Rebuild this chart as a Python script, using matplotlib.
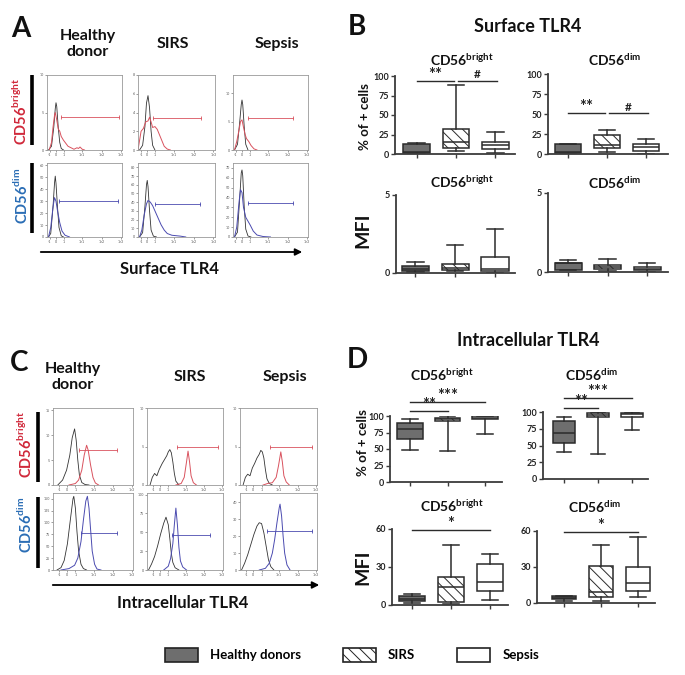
import matplotlib
matplotlib.use("Agg")
import matplotlib.pyplot as plt
from matplotlib.patches import Patch

plt.rcParams['font.family'] = ['Lato', 'DejaVu Sans']
plt.rcParams['mathtext.fontset'] = 'custom'
plt.rcParams['mathtext.rm'] = 'Lato'
plt.rcParams['mathtext.bf'] = 'Lato:bold'
plt.rcParams['hatch.linewidth'] = 0.7

# ---------------- data ----------------
GROUPS = ['Healthy donors', 'SIRS', 'Sepsis']
HIST_XTICKLABELS = ['-1', '0', '1', '1e1', '1e2', '1e3']

# Panel A (surface TLR4) histogram traces: (channel, count); isotype = black, stain = coloured
A_HD_BRIGHT_ISO = [(0.02,0),(0.06,0.5),(0.09,3),(0.11,5.5),(0.12,6.3),(0.13,5.8),(0.15,3),(0.17,1),(0.19,0.2),(0.22,0)]
A_HD_BRIGHT_TLR4 = [(0.03,0),(0.06,1),(0.08,3),(0.10,4.6),(0.11,5),(0.13,4),(0.15,2.8),(0.17,2.5),(0.19,1.8),(0.22,1.3),(0.25,0.9),(0.28,0.5),(0.32,0.3),(0.36,0.1),(0.40,0.3),(0.42,0.2),(0.44,0.4),(0.47,0.1),(0.50,0)]
A_SIRS_BRIGHT_ISO = [(0.02,0),(0.06,0.5),(0.09,2.5),(0.11,5),(0.13,5.8),(0.15,4.5),(0.17,2),(0.19,0.5),(0.22,0)]
A_SIRS_BRIGHT_TLR4 = [(0.0,0),(0.02,1),(0.04,2),(0.07,2.3),(0.10,3),(0.13,3.1),(0.15,3.5),(0.17,3),(0.19,2.4),(0.22,2.5),(0.25,2.2),(0.28,1.6),(0.31,1),(0.34,0.4),(0.38,0.1),(0.42,0)]
A_SEP_BRIGHT_ISO = [(0.02,0),(0.06,1),(0.09,5),(0.11,8),(0.12,8.8),(0.13,8),(0.15,4),(0.17,1),(0.20,0)]
A_SEP_BRIGHT_TLR4 = [(0.02,0),(0.05,1.5),(0.08,3.5),(0.10,5),(0.12,5.3),(0.14,4),(0.16,2.8),(0.18,2),(0.21,1.5),(0.24,0.8),(0.28,0.2),(0.32,0)]
A_HD_DIM_ISO = [(0.02,0),(0.05,3),(0.08,25),(0.10,45),(0.11,51),(0.12,45),(0.14,25),(0.16,8),(0.19,1),(0.22,0)]
A_HD_DIM_TLR4 = [(0.02,0),(0.05,8),(0.08,25),(0.10,33),(0.12,30),(0.14,22),(0.17,12),(0.20,5),(0.24,1.5),(0.30,0)]
A_SIRS_DIM_ISO = [(0.02,0),(0.06,5),(0.09,35),(0.11,60),(0.12,65),(0.13,58),(0.15,30),(0.17,8),(0.20,1),(0.24,0)]
A_SIRS_DIM_TLR4 = [(0.02,0),(0.05,8),(0.08,25),(0.11,38),(0.13,42),(0.16,40),(0.19,36),(0.22,30),(0.26,22),(0.30,14),(0.34,8),(0.38,4),(0.44,2),(0.55,1),(0.62,0)]
A_SEP_DIM_ISO = [(0.02,0),(0.06,5),(0.09,40),(0.11,65),(0.12,68),(0.13,62),(0.15,30),(0.17,8),(0.20,1),(0.24,0)]
A_SEP_DIM_TLR4 = [(0.02,0),(0.05,10),(0.08,35),(0.10,48),(0.12,45),(0.14,30),(0.17,20),(0.20,16),(0.23,12),(0.27,6),(0.32,2),(0.40,0.5),(0.50,0)]
# gates: (start, end, level)
A_GATES = [(0.18,0.96,4.4),(0.20,0.82,3.4),(0.20,0.80,5.6),(0.16,0.95,30),(0.22,0.80,38),(0.20,0.80,34)]
A_YMAX = [10, 8, 13.2, 62, 85, 75]
A_YTICKS = [[0,5,10],[0,2,4,6,8],[0,5,10],[0,10,20,30,40,50,60],[0,10,20,30,40,50,60,70,80],[0,10,20,30,40,50,60,70]]

# Panel C (intracellular TLR4)
C_HD_BRIGHT_ISO = [(0.06,0),(0.12,1),(0.17,3),(0.21,6),(0.24,9.5),(0.27,11.3),(0.29,9),(0.31,5),(0.33,2),(0.36,0.5),(0.40,0.1),(0.45,0)]
C_HD_BRIGHT_TLR4 = [(0.20,0),(0.28,0.3),(0.32,1),(0.36,3),(0.39,6),(0.42,8),(0.44,7),(0.47,4),(0.50,1.5),(0.53,0.4),(0.57,0)]
C_SIRS_BRIGHT_ISO = [(0.04,0),(0.07,1),(0.10,1.5),(0.13,1.2),(0.16,2),(0.20,2.8),(0.23,3.3),(0.26,3.8),(0.28,4.3),(0.30,4.6),(0.32,4.2),(0.34,3),(0.36,1.5),(0.38,0.5),(0.42,0)]
C_SIRS_BRIGHT_TLR4 = [(0.38,0),(0.45,0.2),(0.49,1),(0.52,3),(0.54,4.4),(0.56,3),(0.58,1.2),(0.61,0.3),(0.65,0)]
C_SEP_BRIGHT_ISO = [(0.04,0),(0.07,1),(0.10,1.4),(0.13,1.2),(0.16,2.2),(0.19,2.8),(0.22,3.5),(0.25,4),(0.27,4.5),(0.29,4.3),(0.31,3.5),(0.33,2),(0.35,0.8),(0.38,0.2),(0.42,0)]
C_SEP_BRIGHT_TLR4 = [(0.30,0),(0.36,0.2),(0.42,0.3),(0.47,1),(0.50,2.5),(0.53,4.3),(0.55,3),(0.57,1.2),(0.60,0.4),(0.64,0)]
C_HD_DIM_ISO = [(0.05,0),(0.10,5),(0.14,20),(0.18,55),(0.22,110),(0.25,150),(0.26,155),(0.28,130),(0.30,80),(0.32,40),(0.35,12),(0.38,3),(0.42,0)]
C_HD_DIM_TLR4 = [(0.10,0),(0.20,3),(0.27,10),(0.31,25),(0.35,60),(0.38,105),(0.41,145),(0.43,155),(0.45,130),(0.47,85),(0.49,40),(0.52,12),(0.55,2),(0.60,0)]
C_SIRS_DIM_ISO = [(0.02,0),(0.06,8),(0.10,18),(0.14,32),(0.18,48),(0.22,62),(0.25,70),(0.28,60),(0.30,42),(0.32,22),(0.34,10),(0.37,3),(0.42,0)]
C_SIRS_DIM_TLR4 = [(0.22,0),(0.28,5),(0.31,15),(0.34,35),(0.36,60),(0.38,82),(0.40,60),(0.42,30),(0.44,12),(0.47,4),(0.52,0)]
C_SEP_DIM_ISO = [(0.02,0),(0.06,4),(0.10,9),(0.14,15),(0.18,21),(0.22,26),(0.25,28),(0.28,27.5),(0.31,22),(0.34,14),(0.37,6),(0.40,2),(0.44,0)]
C_SEP_DIM_TLR4 = [(0.25,0),(0.33,1),(0.38,4),(0.42,10),(0.45,18),(0.48,28),(0.51,37),(0.52,39),(0.54,32),(0.56,20),(0.58,10),(0.61,3),(0.65,0)]
C_GATES = [(0.33,0.80,7),(0.39,0.93,5),(0.39,0.93,5),(0.35,0.80,78),(0.33,0.83,47),(0.35,0.93,23)]
C_YMAX = [15.5, 10, 10, 162, 102, 45.6]
C_YTICKS = [[0,5,10,15],[0,5,10],[0,5,10],[0,25,50,75,100,125,150],[0,25,50,75,100],[0,10,20,30,40]]

# Box plot statistics: [whisker low, Q1, median, Q3, whisker high] for HD, SIRS, Sepsis
B_PCT_BRIGHT = [[0, 1, 2, 13, 14], [4, 8, 15, 32, 89], [1, 6, 11, 15, 28]]
B_PCT_DIM = [[0, 1, 2, 12, 13], [2, 7, 11, 24, 30], [0, 4, 9, 12, 19]]
B_MFI_BRIGHT = [[0.05, 0.15, 0.25, 0.45, 0.7], [0.1, 0.2, 0.35, 0.55, 1.8], [0.0, 0.15, 0.25, 1.0, 2.8]]
B_MFI_DIM = [[0.1, 0.15, 0.55, 0.6, 0.75], [0.05, 0.2, 0.3, 0.45, 0.8], [0.0, 0.15, 0.22, 0.3, 0.6]]
D_PCT_BRIGHT = [[48, 65, 80, 90, 95], [47, 93, 95, 97, 100], [73, 95, 97, 100, 100]]
D_PCT_DIM = [[40, 53, 68, 86, 92], [38, 92, 96, 99, 100], [73, 92, 97, 99, 100]]
D_MFI_BRIGHT = [[1.5, 3, 5, 7, 9], [0.5, 2, 14, 22, 47], [4, 11, 18, 32, 40]]
D_MFI_DIM = [[2, 3, 4, 6, 6], [2, 5, 9, 31, 48], [5, 10, 17, 30, 55]]

# significance bars: (from group, to group, level, label)
SIG_B_PCT_BRIGHT = [(1, 1.95, 94, '**'), (2.05, 3.05, 94, '#')]
SIG_B_PCT_DIM = [(1, 1.95, 51, '**'), (2.05, 3.05, 51, '#')]
SIG_D_PCT_BRIGHT = [(1, 3, 121, '***'), (1, 2, 107, '**')]
SIG_D_PCT_DIM = [(1, 3, 121, '***'), (1, 2, 106, '**')]
SIG_D_MFI_BRIGHT = [(1, 3, 59, '*')]
SIG_D_MFI_DIM = [(1, 3, 59.5, '*')]

# ---------------- layout helpers ----------------
W, H = 685, 675
fig = plt.figure(figsize=(W / 100, H / 100), dpi=100)

def rect(x0, y0, x1, y1):
    return [x0 / W, 1 - y1 / H, (x1 - x0) / W, (y1 - y0) / H]

ov = fig.add_axes([0, 0, 1, 1])
ov.set_xlim(0, W)
ov.set_ylim(H, 0)
ov.axis('off')

RED = '#d0283a'
BLUE = '#2a6db5'
RED_LINE = '#d9525e'
BLUE_LINE = '#4b4bb0'
ISO_C = '#333333'

def bright_lbl():
    return r'CD56$^{\mathbf{bright}}$'

def dim_lbl():
    return r'CD56$^{\mathbf{dim}}$'

def hist_panel(r, iso, stain, gate, ymax, yticks, xtpos, col):
    ax = fig.add_axes(r)
    x, y = zip(*iso)
    ax.plot(x, y, color=ISO_C, lw=0.6)
    x, y = zip(*stain)
    ax.plot(x, y, color=col, lw=0.7)
    g0, g1, gy = gate
    ax.plot([g0, g1], [gy, gy], color=col, lw=0.6, marker='|', ms=3, mew=0.6)
    ax.set_xlim(0, 1)
    ax.set_ylim(0, ymax)
    ax.set_xticks(xtpos)
    ax.set_xticklabels(HIST_XTICKLABELS)
    ax.set_yticks(yticks)
    ax.tick_params(labelsize=2.6, length=1.2, width=0.4, pad=0.8, colors='#555555')
    for s in ax.spines.values():
        s.set_color('#999999')
        s.set_linewidth(0.6)
    return ax

# ---------------- Panel A ----------------
A_XT = [0.04, 0.12, 0.22, 0.47, 0.73, 0.98]
a_cols_x = [(47, 122), (138, 215), (233, 308)]
a_rows_y = [(75, 150), (163, 237)]
A_TRACES = [(A_HD_BRIGHT_ISO, A_HD_BRIGHT_TLR4), (A_SIRS_BRIGHT_ISO, A_SIRS_BRIGHT_TLR4), (A_SEP_BRIGHT_ISO, A_SEP_BRIGHT_TLR4),
            (A_HD_DIM_ISO, A_HD_DIM_TLR4), (A_SIRS_DIM_ISO, A_SIRS_DIM_TLR4), (A_SEP_DIM_ISO, A_SEP_DIM_TLR4)]
for i, (iso, st) in enumerate(A_TRACES):
    row, colm = divmod(i, 3)
    (x0, x1), (y0, y1) = a_cols_x[colm], a_rows_y[row]
    hist_panel(rect(x0, y0, x1, y1), iso, st, A_GATES[i], A_YMAX[i], A_YTICKS[i], A_XT,
               RED_LINE if row == 0 else BLUE_LINE)

# ---------------- Panel C ----------------
C_XT = [0.08, 0.17, 0.28, 0.51, 0.75, 0.99]
c_cols_x = [(53, 133), (147, 223), (240, 317)]
c_rows_y = [(408, 485), (493, 570)]
C_TRACES = [(C_HD_BRIGHT_ISO, C_HD_BRIGHT_TLR4), (C_SIRS_BRIGHT_ISO, C_SIRS_BRIGHT_TLR4), (C_SEP_BRIGHT_ISO, C_SEP_BRIGHT_TLR4),
            (C_HD_DIM_ISO, C_HD_DIM_TLR4), (C_SIRS_DIM_ISO, C_SIRS_DIM_TLR4), (C_SEP_DIM_ISO, C_SEP_DIM_TLR4)]
for i, (iso, st) in enumerate(C_TRACES):
    row, colm = divmod(i, 3)
    (x0, x1), (y0, y1) = c_cols_x[colm], c_rows_y[row]
    hist_panel(rect(x0, y0, x1, y1), iso, st, C_GATES[i], C_YMAX[i], C_YTICKS[i], C_XT,
               RED_LINE if row == 0 else BLUE_LINE)

# ---------------- box plots ----------------
EDGE = '#2b2b2b'
SPINE = '#3c3c3c'
FILLS = ['#6e6e6e', 'white', 'white']
HATCHES = [None, '\\\\\\', None]

def box_panel(r, data, ylim, yticks, xlim=(0.45, 3.5), width=0.68, sig=()):
    ax = fig.add_axes(r)
    ax.patch.set_alpha(0)
    stats = [dict(whislo=d[0], q1=d[1], med=d[2], q3=d[3], whishi=d[4], label=g)
             for d, g in zip(data, GROUPS)]
    bp = ax.bxp(stats, positions=[1, 2, 3], widths=width, patch_artist=True, showfliers=False,
                boxprops=dict(edgecolor=EDGE, linewidth=1.1),
                whiskerprops=dict(color=EDGE, linewidth=1.1),
                capprops=dict(color=EDGE, linewidth=1.1),
                medianprops=dict(color=EDGE, linewidth=1.1),
                capwidths=0.42)
    for b, fc, h in zip(bp['boxes'], FILLS, HATCHES):
        b.set_facecolor(fc)
        if h:
            b.set_hatch(h)
    for x0, x1, y, lbl in sig:
        ax.plot([x0, x1], [y, y], color=EDGE, lw=1.0, clip_on=False)
        big = '*' in lbl
        ax.annotate(lbl, xy=((x0 + x1) / 2, y), xytext=(0, -1.5 if big else 0.5),
                    textcoords='offset points', ha='center', va='bottom',
                    fontsize=12 if big else 8.5, fontweight='bold', color='#222222',
                    annotation_clip=False)
    ax.set_xlim(*xlim)
    ax.set_ylim(*ylim)
    ax.set_yticks(yticks)
    ax.set_xticks([1, 2, 3])
    ax.set_xticklabels([])
    for s in ['top', 'right']:
        ax.spines[s].set_visible(False)
    for s in ['left', 'bottom']:
        ax.spines[s].set_color(SPINE)
        ax.spines[s].set_linewidth(1.3)
    ax.tick_params(axis='both', length=3, width=1.0, color=SPINE, labelsize=6.5, pad=1.5)
    for t in ax.get_yticklabels():
        t.set_fontweight('bold')
        t.set_color('#222222')
    return ax

PCT_TICKS = [0, 25, 50, 75, 100]
box_panel(rect(395, 76, 515, 154), B_PCT_BRIGHT, (0, 100), PCT_TICKS, sig=SIG_B_PCT_BRIGHT)
box_panel(rect(548, 74, 668, 154), B_PCT_DIM, (0, 100), PCT_TICKS, xlim=(0.49, 3.56), sig=SIG_B_PCT_DIM)
box_panel(rect(396, 195, 515, 273), B_MFI_BRIGHT, (0, 5), [0, 5], xlim=(0.52, 3.5))
box_panel(rect(548, 193, 668, 272), B_MFI_DIM, (0, 5), [0, 5], xlim=(0.49, 3.53))
box_panel(rect(390, 416, 502, 482), D_PCT_BRIGHT, (0, 100), PCT_TICKS, xlim=(0.47, 3.45), sig=SIG_D_PCT_BRIGHT)
box_panel(rect(543, 412, 648, 479), D_PCT_DIM, (0, 100), PCT_TICKS, xlim=(0.38, 3.47), width=0.64, sig=SIG_D_PCT_DIM)
box_panel(rect(392, 529, 508, 605), D_MFI_BRIGHT, (0, 60), [0, 30, 60], xlim=(0.49, 3.46), sig=SIG_D_MFI_BRIGHT)
box_panel(rect(537, 531, 655, 603), D_MFI_DIM, (0, 60), [0, 30, 60], xlim=(0.27, 3.46), width=0.64, sig=SIG_D_MFI_DIM)

# ---------------- text & decorations (overlay, pixel coords) ----------------
def T(x, y, s, size, color='#111111', rot=0, **kw):
    ov.text(x, y, s, fontsize=size, fontweight='bold', color=color, rotation=rot,
            ha='center', va='center', **kw)

# panel letters
T(21, 29, 'A', 20)
T(357, 27, 'B', 20)
T(19, 363, 'C', 20)
T(357, 360, 'D', 20)

# column headers
T(88, 44, 'Healthy\ndonor', 11.5, linespacing=1.25)
T(173, 44, 'SIRS', 11.5)
T(277, 44, 'Sepsis', 11.5)
T(73, 377, 'Healthy\ndonor', 11.5, linespacing=1.25)
T(190, 377, 'SIRS', 11.5)
T(285, 377, 'Sepsis', 11.5)

# row labels and bars
T(20, 111, bright_lbl(), 10.5, color=RED, rot=90)
T(21, 196, dim_lbl(), 10.5, color=BLUE, rot=90)
T(25, 444, bright_lbl(), 10.5, color=RED, rot=90)
T(25, 525, dim_lbl(), 10.5, color=BLUE, rot=90)
for (bx, by0, by1) in [(32, 75, 145), (32, 163, 233), (38, 412, 482), (38, 497, 568)]:
    ov.plot([bx, bx], [by0, by1], color='black', lw=2.6, solid_capstyle='butt')

# axis arrows
ov.annotate('', xy=(305, 252), xytext=(38, 252),
            arrowprops=dict(arrowstyle='-|>', color='black', lw=1.3, mutation_scale=10))
ov.annotate('', xy=(322, 585), xytext=(50, 585),
            arrowprops=dict(arrowstyle='-|>', color='black', lw=1.3, mutation_scale=10))
T(170, 269, 'Surface TLR4', 12)
T(183, 603, 'Intracellular TLR4', 12)

# B / D headers
T(528, 27, 'Surface TLR4', 13)
T(528, 340, 'Intracellular TLR4', 13)
T(462, 60, bright_lbl(), 10)
T(615, 60, dim_lbl(), 10)
T(462, 182, bright_lbl(), 10)
T(615, 183, dim_lbl(), 10)
T(442, 375, bright_lbl(), 10)
T(592, 375, dim_lbl(), 10)
T(452, 506, bright_lbl(), 10)
T(595, 507, dim_lbl(), 10)
T(365, 117, '% of + cells', 9.5, rot=90)
T(363, 443, '% of + cells', 9.5, rot=90)
T(363, 230, 'MFI', 14, rot=90)
T(363, 567, 'MFI', 14, rot=90)

# legend
handles = [Patch(facecolor=fc, edgecolor='#222222', hatch=h, linewidth=1.2, label=g)
           for fc, h, g in zip(FILLS, HATCHES, GROUPS)]
leg = fig.legend(handles=handles, loc='center', bbox_to_anchor=(352 / W, 1 - 655 / H), ncol=3,
                 frameon=False, handlelength=2.5, handleheight=1.35, handletextpad=0.9,
                 columnspacing=3.2, prop=dict(size=9.5, weight='bold'))

fig.savefig('out.png', dpi=100)
